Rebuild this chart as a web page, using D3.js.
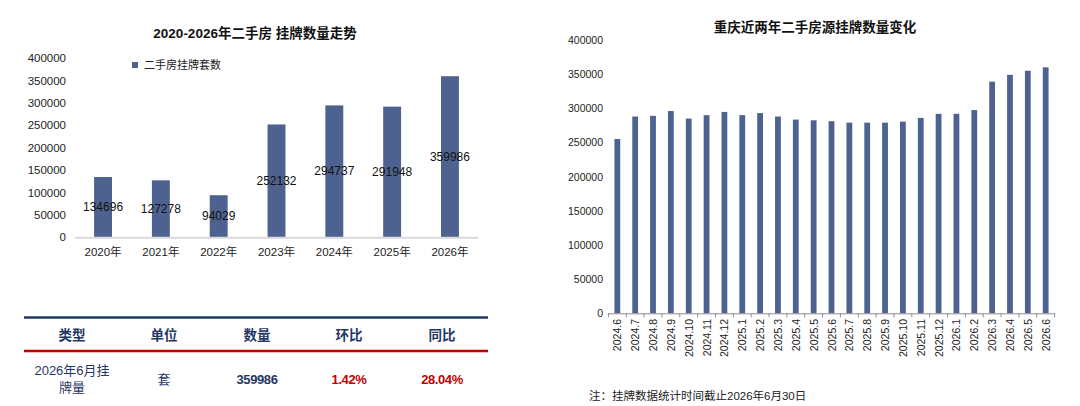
<!DOCTYPE html>
<html><head><meta charset="utf-8">
<script src="https://cdn.jsdelivr.net/npm/d3@7"></script>
<style>
html,body{margin:0;padding:0;background:#fff;}
svg{display:block;font-family:"Liberation Sans","Noto Sans CJK SC",sans-serif;}
</style></head>
<body><svg id="c" width="1080" height="406"></svg>
<script>
// ---- data ----
const years = ["2020年","2021年","2022年","2023年","2024年","2025年","2026年"];
const yearValues = [134696,127278,94029,252132,294737,291948,359986];
const yearTicks = [0,50000,100000,150000,200000,250000,300000,350000,400000];

const months = ["2024.6","2024.7","2024.8","2024.9","2024.10","2024.11","2024.12",
  "2025.1","2025.2","2025.3","2025.4","2025.5","2025.6","2025.7","2025.8","2025.9",
  "2025.10","2025.11","2025.12","2026.1","2026.2","2026.3","2026.4","2026.5","2026.6"];
const monthValues = [255000,288000,289000,296000,285000,290000,294737,
  290000,293000,288000,283500,282500,281151,279000,279000,279000,
  280500,286000,291948,292000,297500,339000,349000,354946,359986];
const monthTicks = [0,50000,100000,150000,200000,250000,300000,350000,400000];

const tableHeaders = ["类型","单位","数量","环比","同比"];
const tableRowType = ["2026年6月挂","牌量"];
const tableRow = ["套","359986","1.42%","28.04%"];

const titleLeft = "2020-2026年二手房 挂牌数量走势";
const legendLabel = "二手房挂牌套数";
const titleRight = "重庆近两年二手房源挂牌数量变化";
const footnote = "注：挂牌数据统计时间截止2026年6月30日";

// ---- styles ----
const BAR = "#4e6290";
const NAVY = "#1f3864";
const RED = "#c00000";
const svg = d3.select("#c");

// ================= LEFT CHART =================
const xL = d3.scaleBand().domain(years).range([75, 478]).paddingInner(0.69).paddingOuter(0.33);
const yL = d3.scaleLinear().domain([0, 400000]).range([237.3, 58.3]);

svg.append("text").attr("x", 255).attr("y", 33).attr("text-anchor","middle")
  .attr("dominant-baseline","central").attr("font-size", 13.5).attr("font-weight","bold")
  .attr("fill","#111").text(titleLeft);

const gyL = svg.append("g");
gyL.selectAll("text").data(yearTicks).join("text")
  .attr("x", 66).attr("y", d => yL(d)).attr("text-anchor","end")
  .attr("dominant-baseline","central").attr("font-size", 11.5).attr("fill","#222")
  .text(d => d);

svg.append("g").selectAll("rect").data(years).join("rect")
  .attr("x", d => xL(d)).attr("width", xL.bandwidth())
  .attr("y", (d,i) => yL(yearValues[i]))
  .attr("height", (d,i) => yL(0) - yL(yearValues[i]))
  .attr("fill", BAR);

svg.append("line").attr("x1", 75).attr("x2", 478).attr("y1", yL(0)+0.5).attr("y2", yL(0)+0.5)
  .attr("stroke","#d9d9d9").attr("stroke-width", 2);

svg.append("g").selectAll("text").data(years).join("text")
  .attr("x", d => xL(d) + xL.bandwidth()/2)
  .attr("y", (d,i) => (yL(0) + yL(yearValues[i]))/2)
  .attr("text-anchor","middle").attr("dominant-baseline","central")
  .attr("font-size", 12).attr("fill","#111")
  .text((d,i) => yearValues[i]);

svg.append("g").selectAll("text").data(years).join("text")
  .attr("x", d => xL(d) + xL.bandwidth()/2).attr("y", 252)
  .attr("text-anchor","middle").attr("dominant-baseline","central")
  .attr("font-size", 11.5).attr("fill","#222").text(d => d);

// legend
svg.append("rect").attr("x", 132).attr("y", 62).attr("width", 6).attr("height", 6).attr("fill", BAR);
svg.append("text").attr("x", 144).attr("y", 65).attr("dominant-baseline","central")
  .attr("font-size", 11).attr("fill","#222").text(legendLabel);

// ================= TABLE =================
const colX = [72, 164, 257, 349, 442];
svg.append("line").attr("x1", 24).attr("x2", 488).attr("y1", 317.5).attr("y2", 317.5)
  .attr("stroke", NAVY).attr("stroke-width", 2.6);
svg.append("line").attr("x1", 24).attr("x2", 488).attr("y1", 351).attr("y2", 351)
  .attr("stroke", RED).attr("stroke-width", 2.4);
svg.append("g").selectAll("text").data(tableHeaders).join("text")
  .attr("x", (d,i) => colX[i]).attr("y", 335).attr("text-anchor","middle")
  .attr("dominant-baseline","central").attr("font-size", 13.5).attr("font-weight","bold")
  .attr("fill", NAVY).text(d => d);
svg.append("g").selectAll("text").data(tableRowType).join("text")
  .attr("x", colX[0]).attr("y", (d,i) => 370 + i*17).attr("text-anchor","middle")
  .attr("dominant-baseline","central").attr("font-size", 13).attr("fill", NAVY).text(d => d);
svg.append("g").selectAll("text").data(tableRow).join("text")
  .attr("x", (d,i) => colX[i+1]).attr("y", 379).attr("text-anchor","middle")
  .attr("dominant-baseline","central").attr("font-size", 13)
  .attr("font-weight", (d,i) => i === 0 ? "normal" : "bold")
  .attr("letter-spacing", (d,i) => i === 0 ? 0 : -0.4)
  .attr("fill", (d,i) => i >= 2 ? RED : NAVY).text(d => d);

// ================= RIGHT CHART =================
const xR = d3.scaleBand().domain(months).range([608, 1055]).paddingInner(0.675).paddingOuter(0.36);
const yR = d3.scaleLinear().domain([0, 400000]).range([313.3, 40]);

svg.append("text").attr("x", 815).attr("y", 27).attr("text-anchor","middle")
  .attr("dominant-baseline","central").attr("font-size", 13.5).attr("font-weight","bold")
  .attr("fill","#111").text(titleRight);

svg.append("g").selectAll("text").data(monthTicks).join("text")
  .attr("x", 603).attr("y", d => yR(d)).attr("text-anchor","end")
  .attr("dominant-baseline","central").attr("font-size", 10.5).attr("fill","#222")
  .text(d => d);

svg.append("g").selectAll("rect").data(months).join("rect")
  .attr("x", d => xR(d)).attr("width", xR.bandwidth())
  .attr("y", (d,i) => yR(monthValues[i]))
  .attr("height", (d,i) => yR(0) - yR(monthValues[i]))
  .attr("fill", BAR);

// axis line + ticks at band boundaries
const step = xR.step();
const x0 = xR(months[0]) - step * xR.paddingInner() / 2;
const boundaries = d3.range(months.length + 1).map(i => x0 + i*step);
svg.append("line").attr("x1", 608).attr("x2", 1055).attr("y1", yR(0)+0.5).attr("y2", yR(0)+0.5)
  .attr("stroke","#8c8c8c").attr("stroke-width", 1);
svg.append("g").selectAll("line").data(boundaries).join("line")
  .attr("x1", d => d).attr("x2", d => d).attr("y1", yR(0)).attr("y2", yR(0)+4)
  .attr("stroke","#8c8c8c").attr("stroke-width", 1);

svg.append("g").selectAll("text").data(months).join("text")
  .attr("transform", d => `translate(${xR(d) + xR.bandwidth()/2},319) rotate(-90)`)
  .attr("text-anchor","end").attr("dominant-baseline","central")
  .attr("font-size", 10.5).attr("fill","#222").text(d => d);

svg.append("text").attr("x", 589).attr("y", 396).attr("dominant-baseline","central")
  .attr("font-size", 11.5).attr("fill","#222").text(footnote);
</script></body></html>
